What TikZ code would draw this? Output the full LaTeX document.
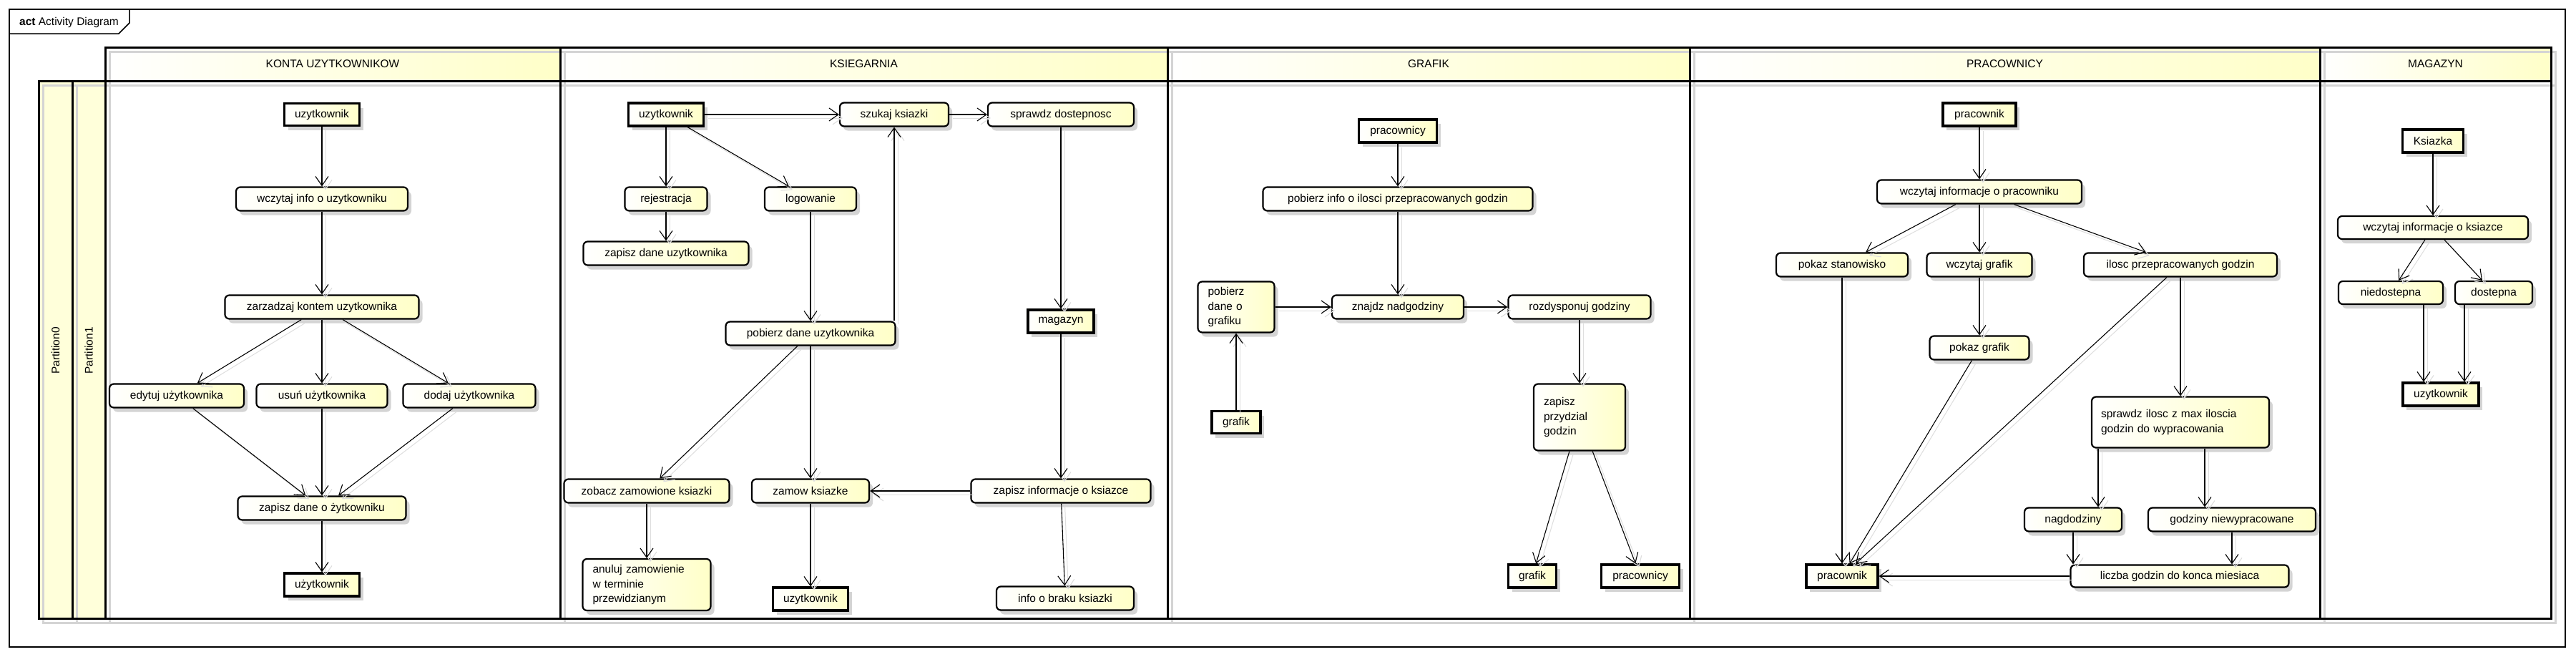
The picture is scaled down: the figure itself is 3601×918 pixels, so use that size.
\documentclass[tikz,border=0pt]{standalone}
\usepackage{fontspec}
\setmainfont{Liberation Sans}
\usetikzlibrary{arrows.meta,shadows,calc}
\definecolor{nodeyel}{RGB}{255,255,200}
\definecolor{headyel}{RGB}{255,255,200}
\definecolor{partyel}{RGB}{255,255,218}
\definecolor{shad}{RGB}{212,212,212}
\definecolor{eshad}{RGB}{222,222,222}
\begin{document}
\begin{tikzpicture}[x=1pt,y=-1pt,font=\fontsize{15.5}{20.5}\selectfont]
\tikzset{
  sz/.style 2 args={minimum width=#1pt,minimum height=#2pt},
  ml/.style={align=left,text width=#1pt},
  nshadow/.style={drop shadow={shadow xshift=5pt,shadow yshift=-6pt,fill=shad,opacity=1}},
  act/.style={draw=black,line width=2.2pt,rounded corners=6pt,left color=white,right color=nodeyel,inner sep=0pt,nshadow},
  obj/.style={draw=black,line width=3.2pt,left color=white,right color=nodeyel,inner sep=0pt,nshadow},
  arr/.style={draw=black,line width=1.1pt,-{Straight Barb[length=13pt,width=18pt,line width=1.1pt]},
    preaction={draw=eshad,line width=1pt,transform canvas={xshift=5pt,yshift=-5pt}}},
  lanebord/.style={draw=black,line width=3pt},
  laneshad/.style={draw=shad,line width=3pt},
  headfill/.style={left color=white,right color=headyel}
}
% canvas
\path[fill=white] (0,0) rectangle (3601,918);
\useasboundingbox (0,0) rectangle (3601,918);

% outer frame
\draw[line width=1.5pt] (13,13) rectangle (3586,904);
\draw[line width=1.5pt] (13,47) -- (166,47) -- (181,32) -- (181,13);
\node[anchor=west,inner sep=0pt] (title) at (27,31) {\textbf{act} Activity Diagram};

% lane fills
\fill[partyel] (54,113) rectangle (101,864);
\fill[partyel] (101,113) rectangle (147,864);
\foreach \xa/\xb in {147/783,783/1632,1632/2362,2362/3243,3243/3566}{
  \shade[headfill] (\xa,66) rectangle (\xb,113);
}
% lane shadows
\foreach \xa/\xb in {54/101,101/147}{
  \draw[laneshad] (\xa+6,119) rectangle (\xb+6,870);
}
\foreach \xa/\xb in {147/783,783/1632,1632/2362,2362/3243,3243/3566}{
  \draw[laneshad] (\xa+6,72) rectangle (\xb+6,119);
  \draw[laneshad] (\xa+6,119) rectangle (\xb+6,870);
}
% lane borders
\draw[lanebord] (54,113) rectangle (101,864);
\draw[lanebord] (101,113) rectangle (147,864);
\foreach \xa/\xb in {147/783,783/1632,1632/2362,2362/3243,3243/3566}{
  \draw[lanebord] (\xa,66) rectangle (\xb,113);
  \draw[lanebord] (\xa,113) rectangle (\xb,864);
}
% lane labels
\node[rotate=90,inner sep=0pt] (part0) at (77.5,490) {Partition0};
\node[rotate=90,inner sep=0pt] (part1) at (124,490) {Partition1};
\node[inner sep=0pt] (h1) at (465,89.5) {KONTA UZYTKOWNIKOW};
\node[inner sep=0pt] (h2) at (1207.5,89.5) {KSIEGARNIA};
\node[inner sep=0pt] (h3) at (1997,89.5) {GRAFIK};
\node[inner sep=0pt] (h4) at (2802.5,89.5) {PRACOWNICY};
\node[inner sep=0pt] (h5) at (3404.5,89.5) {MAGAZYN};

% ---------- KONTA UZYTKOWNIKOW ----------
\node[obj,sz={105}{31}] (k_uz) at (450,160) {uzytkownik};
\node[act,sz={240}{33}] (k_wi) at (450,278) {wczytaj info o uzytkowniku};
\node[act,sz={271}{33}] (k_zk) at (450,429) {zarzadzaj kontem uzytkownika};
\node[act,sz={188}{33}] (k_ed) at (247,553) {edytuj użytkownika};
\node[act,sz={183}{33}] (k_us) at (450,553) {usuń użytkownika};
\node[act,sz={185}{33}] (k_do) at (656,553) {dodaj użytkownika};
\node[act,sz={235}{33}] (k_zd) at (450,710) {zapisz dane o żytkowniku};
\node[obj,sz={105}{32}] (k_uz2) at (450,817) {użytkownik};

% ---------- KSIEGARNIA ----------
\node[obj,sz={105}{32}] (s_uz) at (931,160) {uzytkownik};
\node[act,sz={152}{33}] (s_sz) at (1250,160) {szukaj ksiazki};
\node[act,sz={204}{33}] (s_sp) at (1483,160) {sprawdz dostepnosc};
\node[act,sz={115}{33}] (s_re) at (931,278) {rejestracja};
\node[act,sz={128}{33}] (s_lo) at (1133,278) {logowanie};
\node[act,sz={231}{33}] (s_zd) at (931,354) {zapisz dane uzytkownika};
\node[obj,sz={92}{32}] (s_ma) at (1483,449) {magazyn};
\node[act,sz={237}{33}] (s_po) at (1133,466) {pobierz dane uzytkownika};
\node[act,sz={231}{33}] (s_zo) at (904,686) {zobacz zamowione ksiazki};
\node[act,sz={164}{33}] (s_zam) at (1133,686) {zamow ksiazke};
\node[act,sz={251}{33}] (s_zi) at (1483,686) {zapisz informacje o ksiazce};
\node[act,sz={179}{72},ml=151] (s_an) at (904,817) {anuluj zamowienie\\w terminie\\przewidzianym};
\node[obj,sz={105}{32}] (s_uz2) at (1133,837) {uzytkownik};
\node[act,sz={192}{33}] (s_ib) at (1489,836) {info o braku ksiazki};

% ---------- GRAFIK ----------
\node[obj,sz={109}{32}] (g_pr) at (1954,183) {pracownicy};
\node[act,sz={377}{33}] (g_pi) at (1954,278) {pobierz info o ilosci przepracowanych godzin};
\node[act,sz={107}{71},ml=79] (g_pd) at (1728,429) {pobierz\\dane o\\grafiku};
\node[act,sz={184}{33}] (g_zn) at (1954,429) {znajdz nadgodziny};
\node[act,sz={199}{33}] (g_ro) at (2208,429) {rozdysponuj godziny};
\node[obj,sz={68}{31}] (g_gr) at (1728,590) {grafik};
\node[act,sz={128}{93},ml=100] (g_zp) at (2208,583) {zapisz\\przydzial\\godzin};
\node[obj,sz={67}{32}] (g_gr2) at (2142,805) {grafik};
\node[obj,sz={109}{32}] (g_pr2) at (2293,805) {pracownicy};

% ---------- PRACOWNICY ----------
\node[obj,sz={102}{32}] (p_pr) at (2767,160) {pracownik};
\node[act,sz={286}{33}] (p_wi) at (2767,268) {wczytaj informacje o pracowniku};
\node[act,sz={184}{33}] (p_ps) at (2575,370) {pokaz stanowisko};
\node[act,sz={147}{33}] (p_wg) at (2767,370) {wczytaj grafik};
\node[act,sz={270}{33}] (p_il) at (3048,370) {ilosc przepracowanych godzin};
\node[act,sz={139}{33}] (p_pg) at (2767,486) {pokaz grafik};
\node[act,sz={248}{71},ml=222] (p_sp) at (3048,590) {sprawdz ilosc z max iloscia\\godzin do wypracowania};
\node[act,sz={136}{33}] (p_na) at (2898,726) {nagdodziny};
\node[act,sz={234}{33}] (p_gn) at (3120,726) {godziny niewypracowane};
\node[obj,sz={100}{32}] (p_pr2) at (2575,805) {pracownik};
\node[act,sz={305}{31}] (p_lg) at (3047,805) {liczba godzin do konca miesiaca};

% ---------- MAGAZYN ----------
\node[obj,sz={85}{32}] (m_ks) at (3401,197) {Ksiazka};
\node[act,sz={266}{32}] (m_wi) at (3401,318) {wczytaj informacje o ksiazce};
\node[act,sz={146}{32}] (m_ni) at (3342,409) {niedostepna};
\node[act,sz={108}{32}] (m_do) at (3486,409) {dostepna};
\node[obj,sz={106}{32}] (m_uz) at (3412,551) {uzytkownik};

% ---------- edges ----------
\draw[arr] (k_uz) -- (k_wi);
\draw[arr] (k_wi) -- (k_zk);
\draw[arr] (k_zk) -- (k_ed);
\draw[arr] (k_zk) -- (k_us);
\draw[arr] (k_zk) -- (k_do);
\draw[arr] (k_ed) -- (k_zd);
\draw[arr] (k_us) -- (k_zd);
\draw[arr] (k_do) -- (k_zd);
\draw[arr] (k_zd) -- (k_uz2);

\draw[arr] (s_uz) -- (s_sz);
\draw[arr] (s_sz) -- (s_sp);
\draw[arr] (s_uz) -- (s_re);
\draw[arr] (s_uz) -- (s_lo);
\draw[arr] (s_re) -- (s_zd);
\draw[arr] (s_lo) -- (s_po);
\draw[arr] (s_po.north -| s_sz) -- (s_sz);
\draw[arr] (s_sp) -- (s_ma);
\draw[arr] (s_ma) -- (s_zi);
\draw[arr] (s_zi) -- (s_zam);
\draw[arr] (s_po) -- (s_zo);
\draw[arr] (s_po) -- (s_zam);
\draw[arr] (s_zo) -- (s_an);
\draw[arr] (s_zam) -- (s_uz2);
\draw[arr] (s_zi) -- (s_ib);

\draw[arr] (g_pr) -- (g_pi);
\draw[arr] (g_pi) -- (g_zn);
\draw[arr] (g_pd) -- (g_zn);
\draw[arr] (g_zn) -- (g_ro);
\draw[arr] (g_gr) -- (g_pd);
\draw[arr] (g_ro) -- (g_zp);
\draw[arr] (g_zp) -- (g_gr2);
\draw[arr] (g_zp) -- (g_pr2);

\draw[arr] (p_pr) -- (p_wi);
\draw[arr] (p_wi) -- (p_ps);
\draw[arr] (p_wi) -- (p_wg);
\draw[arr] (p_wi) -- (p_il);
\draw[arr] (p_ps) -- (p_pr2);
\draw[arr] (p_wg) -- (p_pg);
\draw[arr] (p_pg) -- (p_pr2);
\draw[arr] (p_il) -- (p_pr2);
\draw[arr] (p_il) -- (p_sp);
\coordinate (c_na) at ([xshift=35pt]p_na.north);
\coordinate (c_gn) at ([xshift=-38pt]p_gn.north);
\draw[arr] (c_na |- p_sp.south) -- (c_na);
\draw[arr] (c_gn |- p_sp.south) -- (c_gn);
\draw[arr] (p_na) -- (p_na |- p_lg.north);
\draw[arr] (p_gn) -- (p_gn |- p_lg.north);
\draw[arr] (p_lg) -- (p_pr2);

\draw[arr] (m_ks) -- (m_wi);
\draw[arr] (m_wi) -- (m_ni);
\draw[arr] (m_wi) -- (m_do);
\coordinate (c_ni) at ([xshift=46pt]m_ni.south);
\coordinate (c_do) at ([xshift=-41pt]m_do.south);
\draw[arr] (c_ni) -- (c_ni |- m_uz.north);
\draw[arr] (c_do) -- (c_do |- m_uz.north);
\end{tikzpicture}
\end{document}
